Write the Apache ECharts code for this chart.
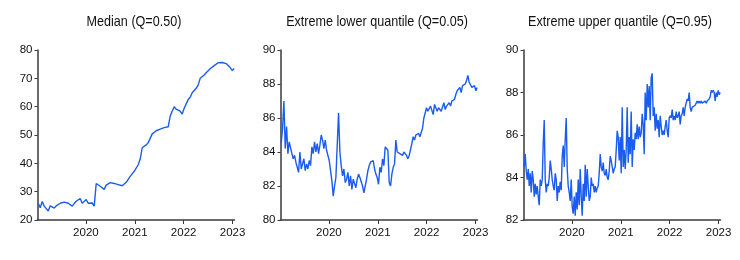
<!DOCTYPE html>
<html>
<head>
<meta charset="utf-8">
<script src="https://cdn.jsdelivr.net/npm/echarts@6/dist/echarts.min.js"></script>
<style>html,body{margin:0;padding:0;background:#fff}#c{width:740px;height:260px}</style>
</head>
<body>
<div id="c"></div>
<script>
// Panel titles
const titles = ['Median (Q=0.50)', 'Extreme lower quantile (Q=0.05)', 'Extreme upper quantile (Q=0.95)'];
// Year tick labels on the time axis
const yearTicks = [2020, 2021, 2022, 2023];
// Sampling: first observation (decimal year) and spacing (years) of each series
const startYear = 2019.025;
const stepMedian = 0.0409;
const stepLower = 0.02727;
const stepUpper = 0.02045;

// Median (Q=0.50)
const median = [25.9,24.3,26.5,24.9,25.5,23.2,25.0,24.3,24.2,25.0,
25.4,25.9,26.5,26.3,26.2,25.9,25.6,24.9,25.8,26.6,
27.2,27.6,25.9,26.3,27.2,25.9,26.4,26.0,24.9,32.9,
32.4,31.9,31.3,30.8,32.3,32.8,33.2,33.0,32.9,32.7,
32.5,32.1,32.1,32.7,33.3,33.9,35.4,36.3,37.2,37.1,
39.5,41.5,45.5,46.1,46.5,47.3,48.8,50.4,51.1,51.5,
51.8,52.1,52.4,52.6,52.7,52.9,56.7,58.4,60.0,59.1,
59.0,58.4,57.4,59.4,61.0,62.5,63.3,64.9,65.6,66.5,
67.6,70.0,70.4,71.2,72.0,72.6,73.4,74.0,74.5,75.0,
75.5,75.9,75.6,75.3,75.2,74.7,73.8,72.8,73.5];

// Extreme lower quantile (Q=0.05)
const lower = [84.5,85.4,87.0,84.2,85.5,83.9,84.6,84.7,83.9,83.6,
83.8,83.4,83.1,82.8,84.0,83.0,82.9,83.6,82.9,83.3,
83.0,83.5,83.2,84.3,83.9,84.6,84.0,84.5,83.9,84.4,
85.0,84.7,84.2,84.7,84.1,84.1,83.5,82.9,82.3,81.4,
82.0,82.5,82.4,86.3,84.0,83.2,82.6,83.0,82.2,82.4,
82.8,82.0,82.6,81.8,82.4,82.5,81.9,82.4,82.7,82.5,
82.6,82.0,81.6,81.7,82.4,82.9,83.2,83.4,83.3,83.5,
83.0,82.7,82.5,82.1,83.1,82.8,83.6,83.2,84.3,84.4,
84.1,82.2,82.0,82.7,83.1,83.3,84.7,84.0,84.1,83.9,
84.0,83.8,84.0,83.9,83.8,83.6,83.8,83.7,84.5,84.9,
84.7,85.0,84.9,85.1,84.9,85.0,85.4,86.0,86.0,86.6,
86.4,86.4,86.7,86.8,86.2,86.8,86.9,86.4,86.6,86.5,
86.4,86.3,86.9,86.5,86.7,86.6,86.9,86.7,87.0,86.9,
87.1,87.4,87.6,87.5,87.8,87.5,87.9,87.8,88.0,88.2,
88.5,88.1,88.1,87.8,87.7,87.9,87.6,87.8];

// Extreme upper quantile (Q=0.95)
const upper = [84.5,85.1,84.3,83.9,84.4,83.6,84.2,83.3,84.3,83.9,
83.1,83.7,83.2,83.6,83.1,82.7,83.9,83.6,83.9,85.6,
86.7,83.9,83.3,83.7,83.6,84.0,84.8,84.4,83.9,83.6,
83.4,84.2,83.9,82.9,83.6,83.3,83.8,83.4,85.0,85.5,
84.5,85.8,86.8,84.4,83.6,83.3,82.9,83.9,82.6,82.3,
83.1,82.2,83.3,82.5,83.9,82.7,84.4,83.1,82.2,83.7,
82.9,84.6,83.1,84.4,83.6,82.9,83.1,84.0,83.6,83.7,
83.3,83.6,83.3,83.5,83.6,84.2,85.1,84.5,84.3,84.7,
84.2,84.1,84.4,84.0,83.9,84.3,85.0,84.8,84.5,84.2,
84.4,84.5,85.3,86.2,85.9,84.8,85.9,84.2,87.3,84.5,
85.3,84.4,85.3,87.3,84.7,85.9,85.1,87.1,84.5,85.8,
85.3,86.1,85.8,86.5,85.8,86.4,85.9,86.1,87.0,86.5,
85.1,88.0,86.7,88.4,87.3,88.3,86.7,88.7,88.9,86.9,
87.3,86.2,87.0,86.3,86.7,85.9,86.9,86.4,86.0,86.2,
86.0,86.4,86.7,86.2,85.9,86.8,86.9,86.8,87.2,86.7,
86.9,86.7,87.1,86.8,86.9,87.1,86.5,86.9,87.0,87.3,
86.9,87.3,87.5,87.7,87.6,88.0,87.3,87.1,87.3,87.3,
87.3,87.4,87.5,87.6,87.5,87.6,87.5,87.6,87.5,87.5,
87.5,87.6,87.5,87.6,87.6,87.7,87.8,88.1,88.0,88.1,
88.0,87.6,88.0,87.8,88.1,87.9,88.0];

const yMin = [20, 80, 82];
const yMax = [80, 90, 90];
const yStep = [10, 2, 2];

const toPairs = (vals, step) => vals.map((v, i) => [startYear + i * step, v]);
const seriesData = [toPairs(median, stepMedian), toPairs(lower, stepLower), toPairs(upper, stepUpper)];

const FONT = '"Liberation Sans", Arial, Helvetica, sans-serif';
const lefts = [37.5, 280.5, 523.5];
const gridW = 197;
const axisColor = '#3a3a3a';
const lineColor = '#1a5cf0';

const option = {
  animation: false,
  backgroundColor: '#ffffff',
  graphic: titles.map((t, i) => ({
    type: 'text',
    x: lefts[i] + gridW / 2 - 2,
    y: 22,
    scaleX: 0.84,
    silent: true,
    style: {
      text: t,
      font: '15px ' + FONT,
      fill: '#111',
      textAlign: 'center',
      textVerticalAlign: 'middle'
    }
  })),
  grid: lefts.map(l => ({ left: l, top: 50, width: gridW, height: 170 })),
  xAxis: lefts.map((l, i) => ({
    type: 'value',
    gridIndex: i,
    min: 2019.01,
    max: 2023.04,
    axisLine: { show: true, onZero: false, lineStyle: { color: axisColor, width: 1.5 } },
    axisTick: { show: true, inside: false, length: 4, customValues: yearTicks, lineStyle: { color: axisColor } },
    axisLabel: { customValues: yearTicks, formatter: v => String(Math.round(v)), margin: 7, fontFamily: FONT, fontSize: 11.5, color: '#111' },
    splitLine: { show: false }
  })),
  yAxis: lefts.map((l, i) => ({
    type: 'value',
    gridIndex: i,
    min: yMin[i],
    max: yMax[i],
    interval: yStep[i],
    axisLine: { show: true, lineStyle: { color: axisColor, width: 1.5 } },
    axisTick: { show: true, inside: false, length: 3, lineStyle: { color: axisColor } },
    axisLabel: { margin: 5, fontFamily: FONT, fontSize: 11.5, color: '#111' },
    splitLine: { show: false }
  })),
  series: seriesData.map((d, i) => ({
    type: 'line',
    xAxisIndex: i,
    yAxisIndex: i,
    data: d,
    showSymbol: false,
    symbol: 'none',
    lineStyle: { color: lineColor, width: 1.4 },
    silent: true
  }))
};

const chart = echarts.init(document.getElementById('c'), null, { renderer: 'canvas', width: 740, height: 260 });
chart.setOption(option);
</script>
</body>
</html>
